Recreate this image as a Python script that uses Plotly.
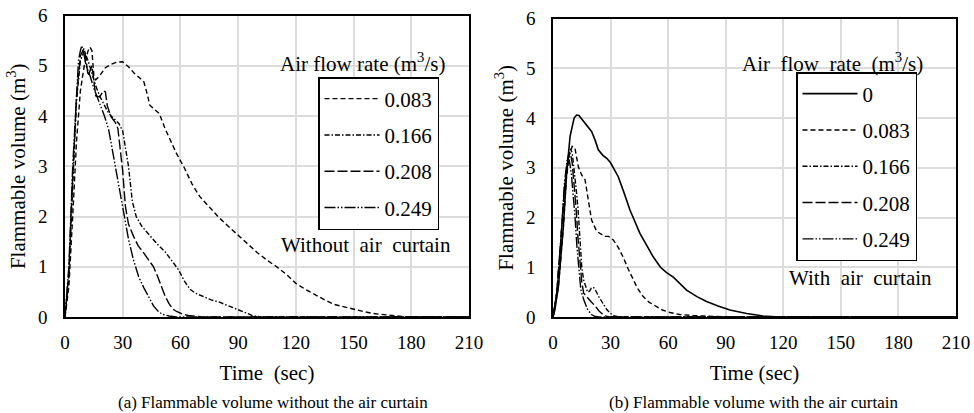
import plotly.graph_objects as go

# ---------------- data (a) without air curtain ----------------
rates_a = ["0.083", "0.166", "0.208", "0.249"]

t_a083 = [0, 2, 4, 6, 8, 10, 12, 13, 14, 15, 16, 18, 21, 24, 27, 30, 33, 36, 39, 41, 43, 44, 46, 49, 52, 55, 58, 62, 66, 70, 75, 80, 85, 90, 95, 100, 105, 110, 115, 120, 125, 130, 135, 140, 145, 150, 155, 160, 165, 170, 175, 180, 190, 200, 210]
v_a083 = [0, 0.6, 2.0, 3.5, 4.5, 5.0, 5.3, 5.37, 5.3, 4.8, 4.72, 4.8, 4.96, 5.03, 5.07, 5.08, 4.98, 4.85, 4.75, 4.68, 4.4, 4.22, 4.15, 4.05, 3.75, 3.5, 3.25, 2.97, 2.65, 2.4, 2.18, 1.98, 1.8, 1.62, 1.45, 1.28, 1.13, 1.0, 0.85, 0.67, 0.55, 0.44, 0.34, 0.25, 0.2, 0.16, 0.11, 0.07, 0.05, 0.03, 0.01, 0.005, 0, 0, 0]

t_a166 = [0, 2, 4, 6, 8, 10, 12, 14, 16, 18, 20, 22, 24, 26, 28, 30, 31, 33, 35, 37, 40, 44, 48, 52, 56, 59, 62, 65, 68, 72, 76, 80, 85, 90, 95, 98, 102, 210]
v_a166 = [0, 0.8, 2.6, 4.3, 5.1, 5.3, 5.1, 4.85, 4.6, 4.4, 4.25, 4.1, 4.0, 3.92, 3.85, 3.7, 3.45, 3.0, 2.3, 2.0, 1.8, 1.62, 1.45, 1.3, 1.1, 0.94, 0.72, 0.55, 0.47, 0.4, 0.34, 0.3, 0.22, 0.14, 0.06, 0.02, 0, 0]

t_a208 = [0, 2, 4, 6, 8, 10, 11, 12, 13, 14, 15, 16, 18, 20, 21, 22, 24, 26, 27.5, 29, 30, 31.4, 33, 35.7, 38, 41, 44, 46, 48, 50, 52, 54, 56, 58, 61, 64, 68, 72, 210]
v_a208 = [0, 0.9, 2.8, 4.4, 5.2, 5.35, 5.1, 4.8, 4.9, 5.0, 4.7, 4.4, 4.38, 4.5, 4.48, 4.2, 3.98, 3.88, 3.75, 3.25, 2.9, 2.2, 1.85, 1.6, 1.42, 1.27, 1.1, 1.0, 0.82, 0.62, 0.42, 0.27, 0.16, 0.11, 0.06, 0.03, 0.01, 0, 0]

t_a249 = [0, 2, 4, 6, 7, 8, 8.7, 10, 11, 13, 15, 18, 20.5, 22.7, 24.5, 26.2, 28, 29.6, 31.5, 33.1, 35.5, 38.3, 41, 43.5, 46, 48.7, 51, 54, 58, 210]
v_a249 = [0, 1.0, 3.0, 4.6, 5.1, 5.3, 5.4, 5.2, 5.0, 4.8, 4.55, 4.25, 4.0, 3.73, 3.35, 2.99, 2.55, 2.2, 1.85, 1.53, 1.15, 0.8, 0.58, 0.40, 0.22, 0.1, 0.05, 0.02, 0, 0]

# ---------------- data (b) with air curtain ----------------
rates_b = ["0", "0.083", "0.166", "0.208", "0.249"]

t_b0 = [0, 1, 2.8, 5.4, 7.1, 8.9, 11, 12.3, 13.5, 15.8, 18, 20.1, 22, 23.6, 26, 28, 30, 34, 37, 40.1, 45.3, 50, 52.2, 56, 59.2, 62.7, 66, 69.6, 75, 80, 86, 92.2, 100.9, 109.5, 118, 210]
v_b0 = [0, 0.15, 0.61, 1.82, 2.89, 3.63, 4.0, 4.06, 4.05, 3.93, 3.82, 3.73, 3.55, 3.36, 3.25, 3.19, 3.1, 2.82, 2.5, 2.15, 1.68, 1.35, 1.21, 1.0, 0.89, 0.80, 0.68, 0.54, 0.41, 0.31, 0.22, 0.14, 0.07, 0.02, 0, 0]

t_b083 = [0, 2.8, 5.4, 7, 8.5, 10, 11.4, 13.2, 15, 16.7, 18.4, 20.1, 22.8, 25, 27.1, 29, 31.4, 34, 36.6, 39, 41.8, 44, 47, 50, 54, 57, 61, 66, 73, 80, 88, 95, 210]
v_b083 = [0, 0.6, 1.8, 2.8, 3.25, 3.43, 3.4, 3.02, 2.85, 2.76, 2.35, 1.95, 1.72, 1.66, 1.62, 1.62, 1.55, 1.4, 1.2, 0.98, 0.74, 0.58, 0.41, 0.3, 0.21, 0.14, 0.09, 0.05, 0.03, 0.015, 0.005, 0, 0]

t_b166 = [0, 2, 4, 6, 8, 9, 10, 11, 12, 13, 14, 15, 16, 17, 18, 19, 20, 21, 22, 24, 26, 28, 30, 32, 35, 210]
v_b166 = [0, 0.5, 1.5, 2.6, 3.2, 3.38, 3.3, 3.0, 2.6, 2.2, 1.6, 1.0, 0.74, 0.6, 0.5, 0.52, 0.58, 0.6, 0.55, 0.4, 0.28, 0.15, 0.07, 0.02, 0, 0]

t_b208 = [0, 2, 4, 6, 8, 9, 10, 11, 12, 13, 14, 15, 16, 18, 20, 22, 24, 26, 28, 30, 210]
v_b208 = [0, 0.5, 1.5, 2.6, 3.25, 3.3, 3.1, 2.7, 2.2, 1.6, 1.1, 0.7, 0.48, 0.38, 0.3, 0.22, 0.12, 0.05, 0.01, 0, 0]

t_b249 = [0, 2, 4, 6, 7.5, 8.5, 9.5, 10.5, 11.5, 12.5, 13.5, 14.5, 16, 18, 20, 22, 24, 210]
v_b249 = [0, 0.5, 1.5, 2.7, 3.2, 3.15, 2.9, 2.5, 2.0, 1.4, 0.9, 0.55, 0.35, 0.15, 0.05, 0.01, 0, 0]

x_ticks = [0, 30, 60, 90, 120, 150, 180, 210]
y_ticks = [0, 1, 2, 3, 4, 5, 6]

# ---------------- styles ----------------
FONT = "Liberation Serif"
dash_styles = {
    "0": "solid",
    "0.083": "5px,3px",
    "0.166": "5px,2px,1.5px,2px",
    "0.208": "10px,3px",
    "0.249": "11px,2px,1.5px,2px,1.5px,2px",
}
W, H = 974, 413


def px_x(p):
    return p / W


def px_y(p):
    return 1 - p / H


fig = go.Figure()

series_a = [(rates_a[0], t_a083, v_a083), (rates_a[1], t_a166, v_a166),
            (rates_a[2], t_a208, v_a208), (rates_a[3], t_a249, v_a249)]
series_b = [(rates_b[0], t_b0, v_b0), (rates_b[1], t_b083, v_b083), (rates_b[2], t_b166, v_b166),
            (rates_b[3], t_b208, v_b208), (rates_b[4], t_b249, v_b249)]

for name, t, v in series_a:
    fig.add_trace(go.Scatter(x=t, y=v, mode="lines", name=name, xaxis="x", yaxis="y",
                             legend="legend", legendgroup="a" + name,
                             line=dict(color="black", width=1.4, dash=dash_styles[name])))
for name, t, v in series_b:
    fig.add_trace(go.Scatter(x=t, y=v, mode="lines", name=name, xaxis="x2", yaxis="y2",
                             legend="legend2", legendgroup="b" + name,
                             line=dict(color="black", width=1.6 if name == "0" else 1.4,
                                       dash=dash_styles[name])))

tick_font = dict(family=FONT, size=19, color="black")
title_font = dict(family=FONT, size=21, color="black")


def make_axis(**kw):
    d = dict(
        showgrid=True, gridcolor="#dcdcdc", gridwidth=1.5,
        showline=True, linecolor="black", linewidth=1.6, mirror=True,
        ticks="", zeroline=False, automargin=False,
        tickfont=tick_font,
    )
    d.update(kw)
    return d


legend_common = dict(
    xanchor="left", yanchor="top",
    bgcolor="white", bordercolor="black", borderwidth=1.5,
    font=dict(family=FONT, size=21, color="black"),
    traceorder="grouped", tracegroupgap=6, itemwidth=55,
)

fig.update_layout(
    width=W, height=H,
    margin=dict(l=0, r=0, t=0, b=0, autoexpand=False),
    paper_bgcolor="white", plot_bgcolor="white",
    font=dict(family=FONT, color="black", size=19),
    xaxis=make_axis(domain=[px_x(65), px_x(469)], range=[0, 210], tickvals=x_ticks, anchor="y",
                    title=dict(text="Time\u00a0 (sec)", standoff=14, font=title_font), ticklabelstandoff=7),
    yaxis=make_axis(domain=[px_y(317), px_y(15.5)], range=[0, 6], tickvals=y_ticks, anchor="x",
                    title=dict(text="Flammable volume (m<sup>3</sup>)", standoff=7, font=title_font),
                    ticklabelstandoff=12),
    xaxis2=make_axis(domain=[px_x(553), px_x(956)], range=[0, 210], tickvals=x_ticks, anchor="y2",
                     title=dict(text="Time (sec)", standoff=14, font=title_font), ticklabelstandoff=7),
    yaxis2=make_axis(domain=[px_y(317), px_y(18.5)], range=[0, 6], tickvals=y_ticks, anchor="x2",
                     title=dict(text="Flammable volume (m<sup>3</sup>)", standoff=7, font=title_font),
                     ticklabelstandoff=12),
    legend=dict(x=px_x(318), y=px_y(77), **legend_common),
    legend2=dict(x=px_x(796), y=px_y(72), **legend_common),
)

ann_font = dict(family=FONT, size=21, color="black")
annotations = [
    dict(text="Air flow rate (m<sup>3</sup>/s)", x=px_x(362), y=px_y(62)),
    dict(text="Without\u00a0 air\u00a0 curtain", x=px_x(366), y=px_y(245)),
    dict(text="Air\u00a0 flow\u00a0 rate\u00a0 (m<sup>3</sup>/s)", x=px_x(832), y=px_y(62)),
    dict(text="With\u00a0 air\u00a0 curtain", x=px_x(860), y=px_y(278)),
]
for a in annotations:
    fig.add_annotation(xref="paper", yref="paper", showarrow=False, xanchor="center", yanchor="middle",
                       font=ann_font, **a)

cap_font = dict(family=FONT, size=17, color="black")
fig.add_annotation(text="(a) Flammable volume without the air curtain", xref="paper", yref="paper",
                   x=px_x(273), y=px_y(402), showarrow=False, xanchor="center", yanchor="middle", font=cap_font)
fig.add_annotation(text="(b) Flammable volume with the air curtain", xref="paper", yref="paper",
                   x=px_x(753), y=px_y(402), showarrow=False, xanchor="center", yanchor="middle", font=cap_font)

fig.write_html("out.html", config={"displayModeBar": False},
               post_script="document.body.style.margin='0';document.body.style.overflow='hidden';")
